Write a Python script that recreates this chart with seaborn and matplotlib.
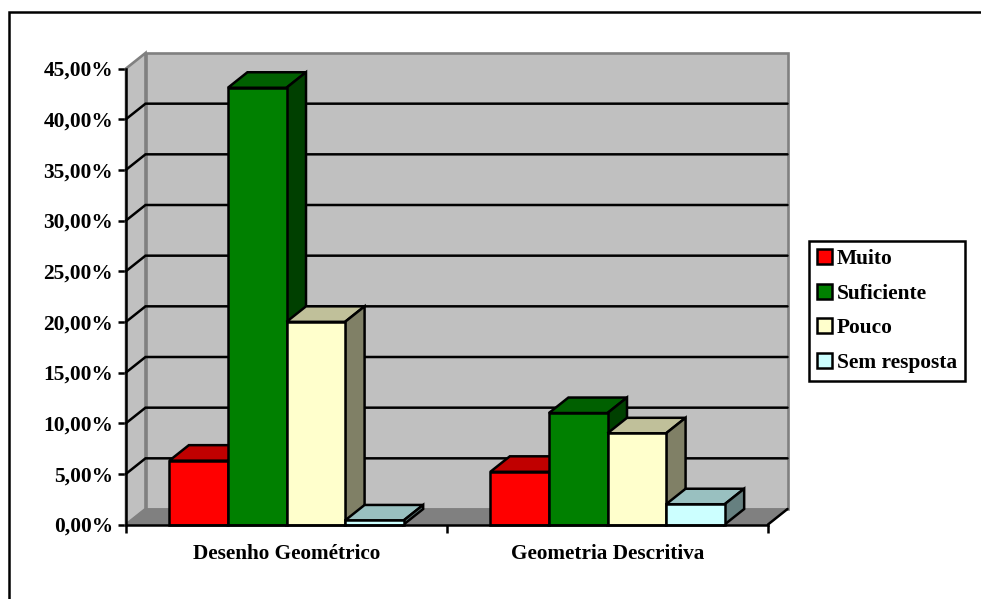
import matplotlib
matplotlib.use("Agg")
import matplotlib.pyplot as plt
from matplotlib.patches import Patch, Polygon, Rectangle
import pandas as pd
import seaborn as sns

disciplines = ["Desenho Geométrico", "Geometria Descritiva"]
responses = ["Muito", "Suficiente", "Pouco", "Sem resposta"]
muito = [6.3, 5.2]
suficiente = [43.1, 11.0]
pouco = [20.0, 9.0]
sem_resposta = [0.4, 2.0]
y_ticks = [0, 5, 10, 15, 20, 25, 30, 35, 40, 45]
y_tick_labels = ["0,00%", "5,00%", "10,00%", "15,00%", "20,00%",
                 "25,00%", "30,00%", "35,00%", "40,00%", "45,00%"]

front_colors = ["#FF0000", "#008000", "#FFFFCC", "#CCFFFF"]
top_colors = ["#C00000", "#006000", "#C0C09A", "#99C0C0"]
side_colors = ["#800000", "#004000", "#808066", "#668080"]

W, H = 981, 599
LW = 1.8
sns.set_theme(style="ticks")
plt.rcParams["font.family"] = ["Liberation Serif", "DejaVu Serif"]
plt.rcParams["font.weight"] = "bold"

fig = plt.figure(figsize=(W / 100, H / 100), dpi=100, facecolor="white")
left, right, top, bottom = 126, 768, 68.5, 524.5
ax = fig.add_axes([left / W, 1 - bottom / H, (right - left) / W, (bottom - top) / H])
ax.patch.set_visible(False)

df = pd.DataFrame({
    "disciplina": disciplines * 4,
    "resposta": [r for r in responses for _ in disciplines],
    "valor": muito + suficiente + pouco + sem_resposta,
})
sns.barplot(data=df, x="disciplina", y="valor", hue="resposta", hue_order=responses,
            order=disciplines, palette=front_colors, width=0.73, gap=0, saturation=1,
            edgecolor="black", linewidth=LW, legend=False, ax=ax, zorder=5)

ax.set_xlim(-0.5, 1.5)
ax.set_ylim(0, 45)
ax.set_xlabel("")
ax.set_ylabel("")

# Oblique offset of the 3D depth, expressed in data units
dx = 19.5 / ((right - left) / 2)
dy = 15.5 / ((bottom - top) / 45)
x0, x1 = -0.5, 1.5

# Back wall, side wall and floor
ax.add_patch(Polygon([(x0 + dx, dy), (x1 + dx, dy), (x1 + dx, 45 + dy), (x0 + dx, 45 + dy)],
                     closed=True, fc="#C0C0C0", ec="#808080", lw=1.9, clip_on=False, zorder=1))
ax.add_patch(Polygon([(x0, 0), (x0 + dx, dy), (x0 + dx, 45 + dy), (x0, 45)],
                     closed=True, fc="#C0C0C0", ec="#808080", lw=1.9, clip_on=False, zorder=1))
ax.add_patch(Polygon([(x0, 0), (x0 + dx, dy), (x1 + dx, dy), (x1, 0)],
                     closed=True, fc="#808080", ec="#808080", lw=1, clip_on=False, zorder=1.5))
ax.plot([x1, x1 + dx], [0, dy], color="black", lw=LW, clip_on=False, zorder=2)

# Grid lines wrap from the front axis onto the back wall
for tick in y_ticks[1:-1]:
    ax.plot([x0, x0 + dx, x1 + dx], [tick, tick + dy, tick + dy],
            color="black", lw=LW, clip_on=False, zorder=2, solid_joinstyle="miter")

# Top and side faces; later bars overlap earlier ones
for i, container in enumerate(ax.containers):
    for bar in container:
        bar.set_zorder(4 + 2 * i)
        xa, w, h = bar.get_x(), bar.get_width(), bar.get_height()
        xb = xa + w
        ax.add_patch(Polygon([(xa, h), (xa + dx, h + dy), (xb + dx, h + dy), (xb, h)],
                             closed=True, fc=top_colors[i], ec="black", lw=LW,
                             clip_on=False, zorder=3 + 2 * i))
        ax.add_patch(Polygon([(xb, 0), (xb + dx, dy), (xb + dx, h + dy), (xb, h)],
                             closed=True, fc=side_colors[i], ec="black", lw=LW,
                             clip_on=False, zorder=3 + 2 * i))
        bar.set_clip_on(False)

sns.despine(ax=ax)
for side in ("left", "bottom"):
    ax.spines[side].set_linewidth(LW)
    ax.spines[side].set_color("black")
    ax.spines[side].set_zorder(30)

ax.set_yticks(y_ticks, y_tick_labels)
ax.set_xticks([-0.5, 0.5, 1.5], minor=False, labels=["", "", ""])
ax.set_xticks([0, 1], disciplines, minor=True)
ax.tick_params(axis="y", length=5.5, width=LW, color="black", pad=3.7, labelsize=15.4, labelcolor="black")
ax.tick_params(axis="x", which="major", length=6, width=LW, color="black")
ax.tick_params(axis="x", which="minor", length=0, pad=14, labelsize=15.3, labelcolor="black")
for label in ax.get_yticklabels() + ax.get_xticklabels(minor=True):
    label.set_fontweight("bold")

handles = [Patch(facecolor=c, edgecolor="black", linewidth=LW, label=r)
           for c, r in zip(front_colors, responses)]
legend = fig.legend(handles=handles, loc="upper left",
                    bbox_to_anchor=(809 / W, 1 - 241 / H), borderaxespad=0,
                    frameon=True, fancybox=False, edgecolor="black", facecolor="white",
                    framealpha=1, prop={"family": "Liberation Serif", "weight": "bold", "size": 15.4},
                    handlelength=0.68, handleheight=0.68, handletextpad=0.24,
                    labelspacing=0.68, borderpad=0.38, labelcolor="black")
legend.get_frame().set_linewidth(LW)

# Outer chart border runs off the right and bottom edges of the image
fig.add_artist(Rectangle((9 / W, -0.05), 1.05, 1 - 12 / H + 0.05, transform=fig.transFigure,
                         fill=False, ec="black", lw=LW))

fig.savefig("out.png", dpi=100, facecolor="white")
